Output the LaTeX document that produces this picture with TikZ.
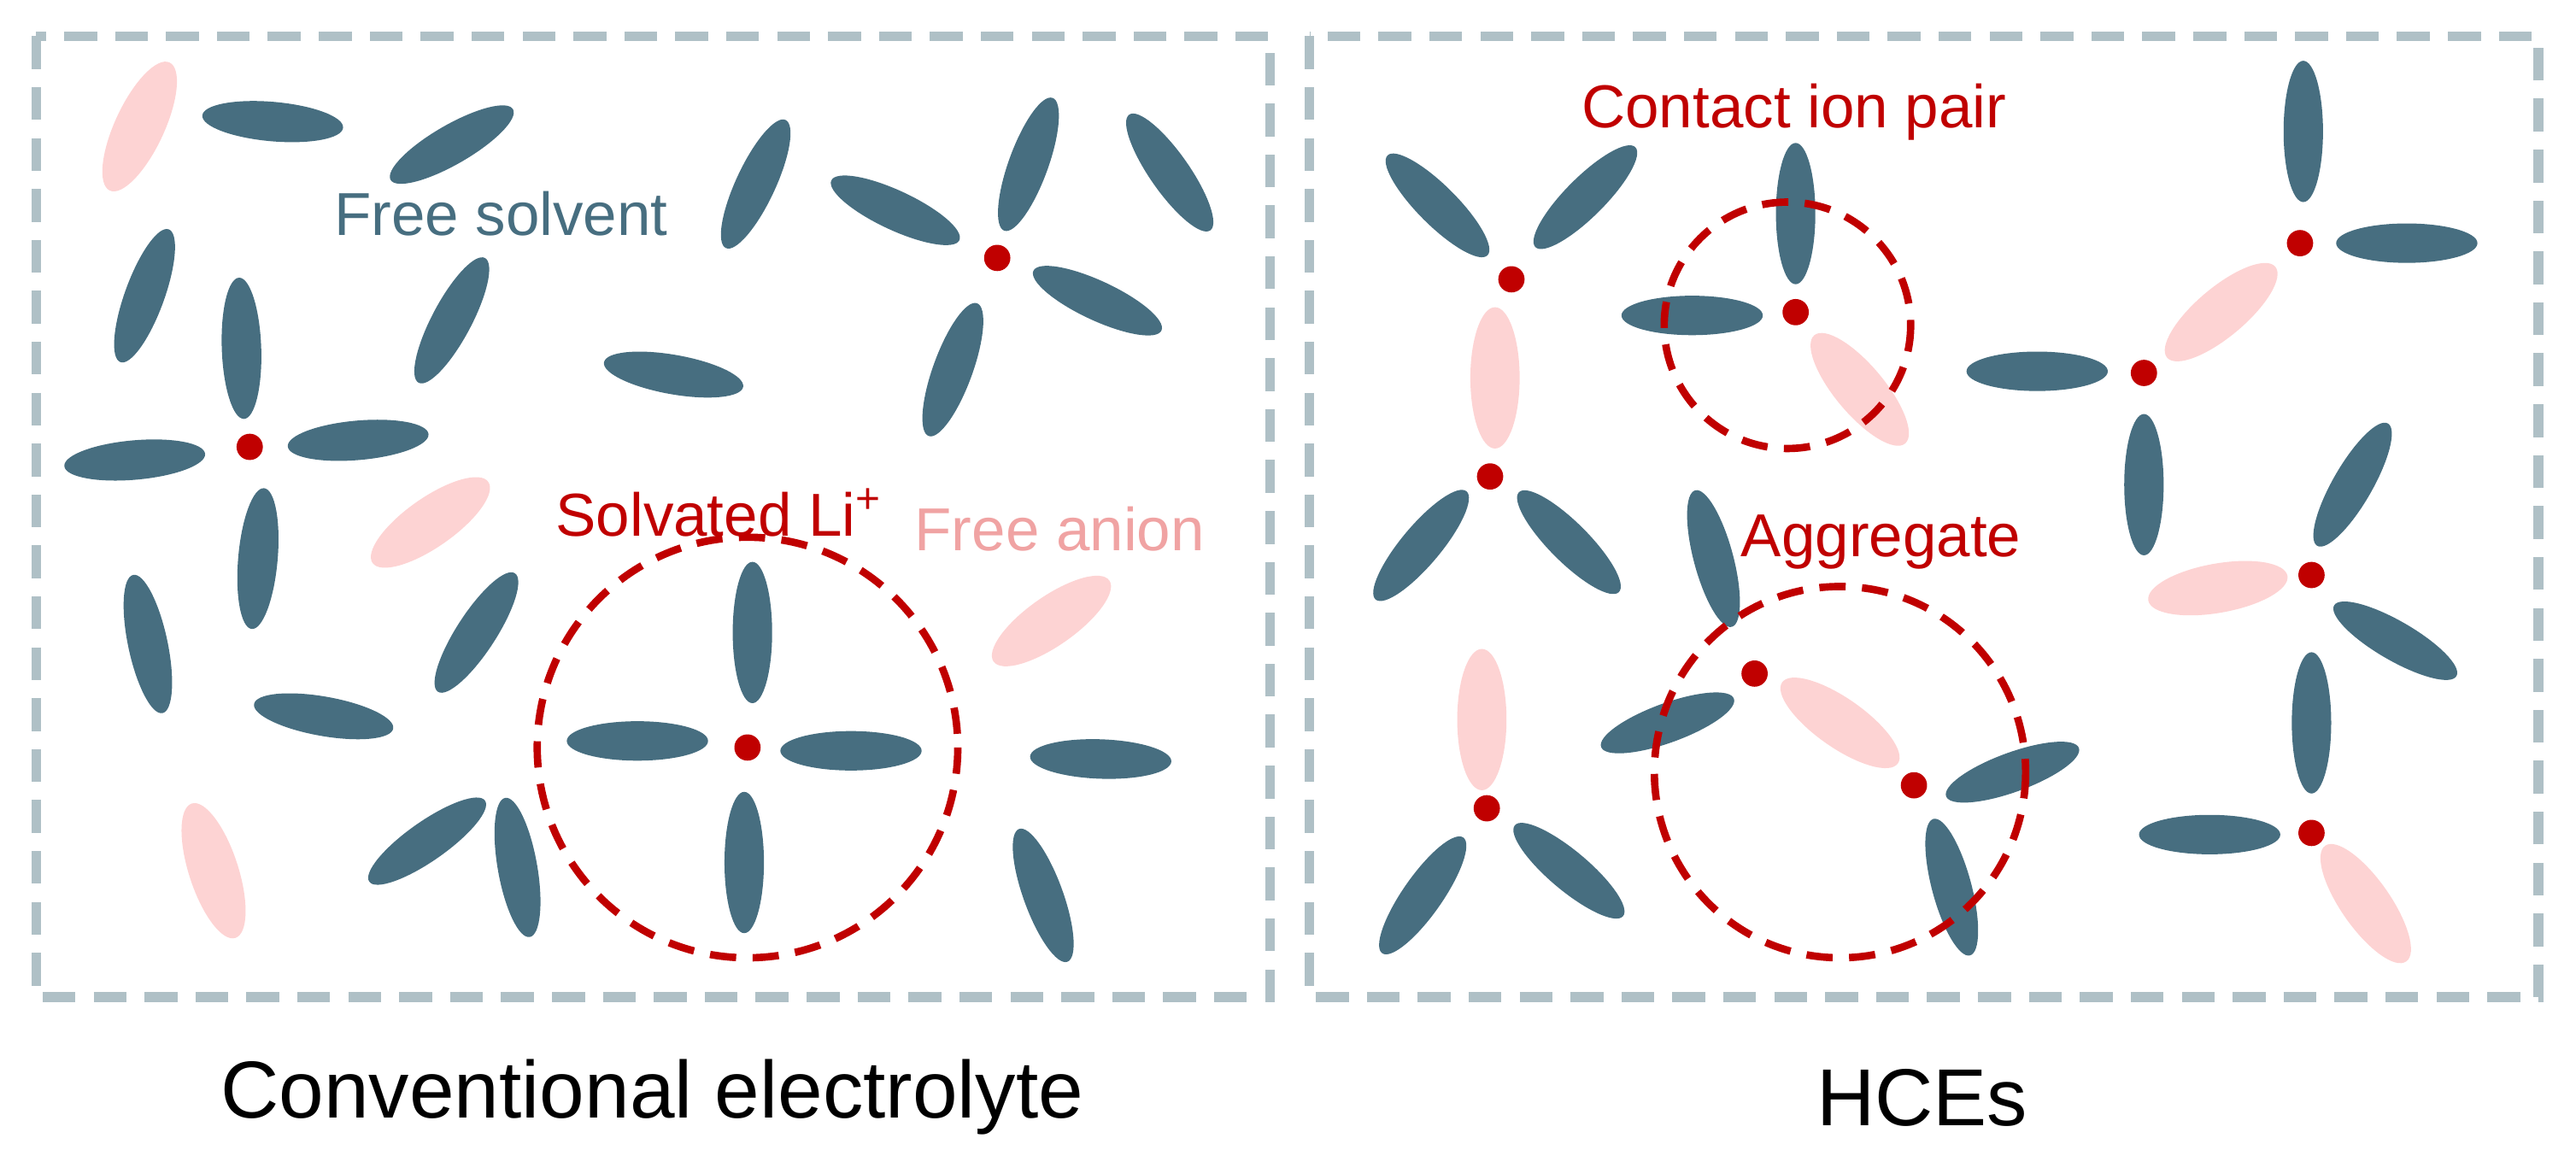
\documentclass[tikz,border=0pt]{standalone}
\usepackage{fontspec}
\setmainfont{Liberation Sans}
\usetikzlibrary{positioning}
\definecolor{boxgray}{HTML}{AFC0C6}
\definecolor{solventc}{HTML}{476E80}
\definecolor{anionc}{HTML}{FDD3D3}
\definecolor{lired}{HTML}{C00000}
\definecolor{anionlbl}{HTML}{F0A3A3}
\tikzset{
  panel/.style={draw=boxgray, line width=0.6mm, dash pattern=on 2mm off 1.1mm},
  shell/.style={draw=lired, line width=0.45mm, dash pattern=on 1.6mm off 1mm},
  lbl/.style={font=\fontsize{10.5}{12}\selectfont},
  title/.style={font=\fontsize{14}{17}\selectfont}
}
% solvent / anion / Li (screen coordinates)
\newcommand{\solv}[3]{\fill[solventc, rotate around={-#3:(#1,#2)}] (#1,#2) ellipse (43 and 12);}
\newcommand{\anio}[3]{\fill[anionc, rotate around={-#3:(#1,#2)}] (#1,#2) ellipse (43 and 15);}
\newcommand{\liion}[2]{\fill[lired] (#1,#2) circle (8);}
\begin{document}
\begin{tikzpicture}[x=0.1mm, y=-0.1mm]
    \useasboundingbox (0,0) rectangle (1568,700);

    % panels
    \draw[panel] (22,22) rectangle (773,607);
    \draw[panel] (797,22) rectangle (1545,607);

    % left panel
    \anio{85}{77}{-65}
    \solv{166}{74}{5}
    \solv{275}{88}{-30}
    \solv{88}{180}{-70}
    \solv{147}{212}{-92}
    \solv{82}{280}{-5}
    \solv{218}{268}{-5}
    \solv{157}{340}{-85}
    \liion{152}{272}
    \solv{275}{195}{-62}
    \solv{460}{112}{-65}
    \solv{626}{100}{-70}
    \solv{545}{128}{25}
    \solv{712}{105}{55}
    \solv{668}{183}{25}
    \solv{580}{225}{-70}
    \liion{607}{157}
    \solv{410}{228}{10}
    \anio{262}{318}{-35}
    \solv{90}{392}{-102}
    \solv{290}{385}{-57}
    \solv{197}{436}{10}
    \anio{640}{378}{-35}
    \solv{458}{385}{90}
    \solv{388}{451}{0}
    \solv{518}{457}{0}
    \solv{453}{525}{90}
    \liion{455}{455}
    \draw[shell] (455,455) circle (128);
    \solv{670}{462}{2}
    \anio{130}{530}{-108}
    \solv{260}{512}{-35}
    \solv{315}{528}{-100}
    \solv{635}{545}{-110}

    \node[lbl, text=solventc] (freesolv) at (305,130) {Free solvent};
    \node[lbl, text=lired] (solvli) at (438,312) {Solvated Li\textsuperscript{+}};
    \node[lbl, text=anionlbl] (freean) at (645,322) {Free anion};

    % right panel
    \solv{875}{125}{45}
    \solv{965}{120}{-45}
    \anio{910}{230}{90}
    \liion{920}{170}
    \solv{865}{332}{-50}
    \solv{955}{330}{45}
    \liion{907}{290}
    \solv{1093}{130}{90}
    \solv{1030}{192}{0}
    \anio{1132}{237}{50}
    \liion{1093}{190}
    \draw[shell] (1088,198) circle (75);
    \solv{1402}{80}{90}
    \solv{1465}{148}{0}
    \anio{1352}{190}{-40}
    \liion{1400}{148}
    \solv{1240}{226}{0}
    \solv{1305}{295}{90}
    \liion{1305}{227}
    \solv{1432}{295}{-60}
    \anio{1350}{358}{-10}
    \solv{1458}{390}{30}
    \liion{1407}{350}
    \solv{1407}{440}{90}
    \solv{1345}{508}{0}
    \anio{1440}{550}{55}
    \liion{1407}{507}
    \solv{1043}{340}{75}
    \solv{1015}{440}{-20}
    \anio{1120}{440}{35}
    \solv{1225}{470}{-20}
    \solv{1188}{540}{75}
    \liion{1068}{410}
    \liion{1165}{478}
    \draw[shell] (1120,470) circle (113);
    \anio{902}{438}{90}
    \solv{866}{545}{-55}
    \solv{955}{530}{40}
    \liion{905}{492}

    \node[lbl, text=lired] (cip) at (1092,68) {Contact ion pair};
    \node[lbl, text=lired] (agg) at (1145,330) {Aggregate};

    % titles
    \node[title] (conv) at (397,668) {Conventional electrolyte};
    \node[title] (hce) at (1170,668) {HCEs};
\end{tikzpicture}
\end{document}
